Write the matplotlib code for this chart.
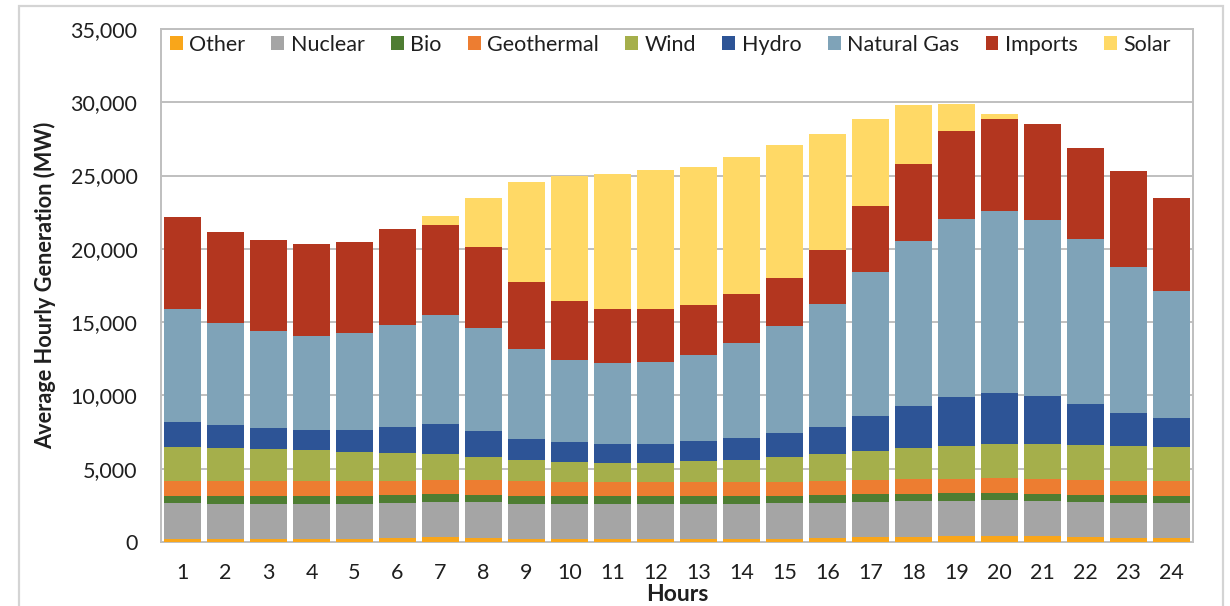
#!/usr/bin/env python3
"""Average hourly generation by source, stacked bars."""
import matplotlib

matplotlib.use("Agg")
import matplotlib.pyplot as plt
import matplotlib.ticker as mtick
from matplotlib.patches import Rectangle
import numpy as np

hours = list(range(1, 25))

other = [230, 200, 200, 200, 200, 250, 320, 270, 230, 200, 200, 200,
         180, 200, 230, 250, 320, 360, 410, 430, 390, 320, 270, 250]
nuclear = [2430, 2410, 2410, 2390, 2410, 2430, 2410, 2430, 2390, 2360, 2390, 2390,
           2430, 2410, 2410, 2410, 2410, 2410, 2410, 2410, 2410, 2410, 2410, 2410]
bio = [500, 520, 520, 545, 520, 500, 520, 500, 520, 550, 545, 545,
       520, 520, 520, 520, 520, 500, 500, 500, 500, 480, 500, 500]
geothermal = [1000, 1000, 1000, 1000, 1000, 980, 980, 1000, 1020, 1000, 980, 980,
              980, 980, 955, 980, 980, 1000, 1000, 1000, 1000, 1000, 1000, 1000]
wind = [2300, 2250, 2230, 2110, 2020, 1910, 1750, 1590, 1460, 1360, 1300, 1300,
        1390, 1500, 1660, 1820, 1950, 2110, 2230, 2320, 2390, 2430, 2360, 2300]
hydro = [1700, 1570, 1450, 1430, 1480, 1800, 2070, 1750, 1430, 1320, 1300, 1300,
         1360, 1500, 1680, 1890, 2410, 2930, 3340, 3480, 3270, 2770, 2270, 1980]
natural_gas = [7730, 7000, 6590, 6410, 6610, 6950, 7430, 7090, 6110, 5640, 5480, 5570,
               5930, 6500, 7250, 8360, 9820, 11230, 12180, 12455, 12000, 11250, 9980, 8660]
imports = [6250, 6200, 6230, 6230, 6250, 6520, 6140, 5520, 4550, 4000, 3730, 3640,
           3360, 3340, 3320, 3700, 4520, 5250, 5955, 6295, 6570, 6250, 6500, 6360]
solar = [0, 0, 0, 0, 0, 0, 590, 3320, 6860, 8570, 9200, 9450,
         9450, 9340, 9050, 7910, 5910, 4020, 1840, 320, 0, 0, 0, 0]

series = [
    ("Other", other, "#F9A61A"),
    ("Nuclear", nuclear, "#A5A5A5"),
    ("Bio", bio, "#4E7D32"),
    ("Geothermal", geothermal, "#ED7D31"),
    ("Wind", wind, "#A5AF4B"),
    ("Hydro", hydro, "#2D5496"),
    ("Natural Gas", natural_gas, "#7FA3B8"),
    ("Imports", imports, "#B3361F"),
    ("Solar", solar, "#FFD966"),
]

plt.rcParams["font.family"] = ["Lato", "DejaVu Sans"]
txt = "#1f1f1f"
grid_c = "#BFBFBF"

fig = plt.figure(figsize=(12.3, 6.06), dpi=100)
ax = fig.add_axes([161 / 1230, 1 - 542 / 606, 1032 / 1230, 513 / 606])

x = np.array(hours)
bottom = np.zeros(len(hours))
for name, vals, col in series:
    v = np.array(vals, dtype=float)
    ax.bar(x, v, bottom=bottom, width=0.84, color=col, label=name, zorder=3, linewidth=0)
    bottom += v

ax.set_xlim(0.5, 24.5)
ax.set_ylim(0, 35000)
ax.set_xticks(x)
ax.set_xticklabels([str(h) for h in hours])
ax.yaxis.set_major_locator(mtick.MultipleLocator(5000))
ax.yaxis.set_major_formatter(mtick.StrMethodFormatter("{x:,.0f}"))
ax.tick_params(axis="both", length=0, labelsize=15.5, colors=txt)
ax.tick_params(axis="x", pad=15)
ax.tick_params(axis="y", pad=17)
ax.grid(axis="y", color=grid_c, linewidth=1.4, zorder=0)
ax.set_axisbelow(True)
for s in ax.spines.values():
    s.set_color(grid_c)
    s.set_linewidth(1.4)

ax.set_xlabel("Hours", fontsize=16.5, fontweight="bold", color=txt)
ax.xaxis.set_label_coords(0.5, -0.082)
ax.set_ylabel("Average Hourly Generation (MW)", fontsize=15.7, fontweight="bold", color=txt)
ax.yaxis.set_label_coords(-0.102, 0.5)

leg = ax.legend(loc="upper center", bbox_to_anchor=(0.4935, 1.014), ncol=9, frameon=False,
                fontsize=15.5, handlelength=0.6, handleheight=0.6, handletextpad=0.3,
                columnspacing=1.22, borderaxespad=0.2)
for t in leg.get_texts():
    t.set_color(txt)

fig.patches.append(Rectangle((19 / 1230, -0.02), 1204 / 1230, 1.02 - 6 / 606,
                             transform=fig.transFigure, fill=False,
                             edgecolor="#D4D4D4", linewidth=1.6))

fig.savefig("out.png", dpi=100)
